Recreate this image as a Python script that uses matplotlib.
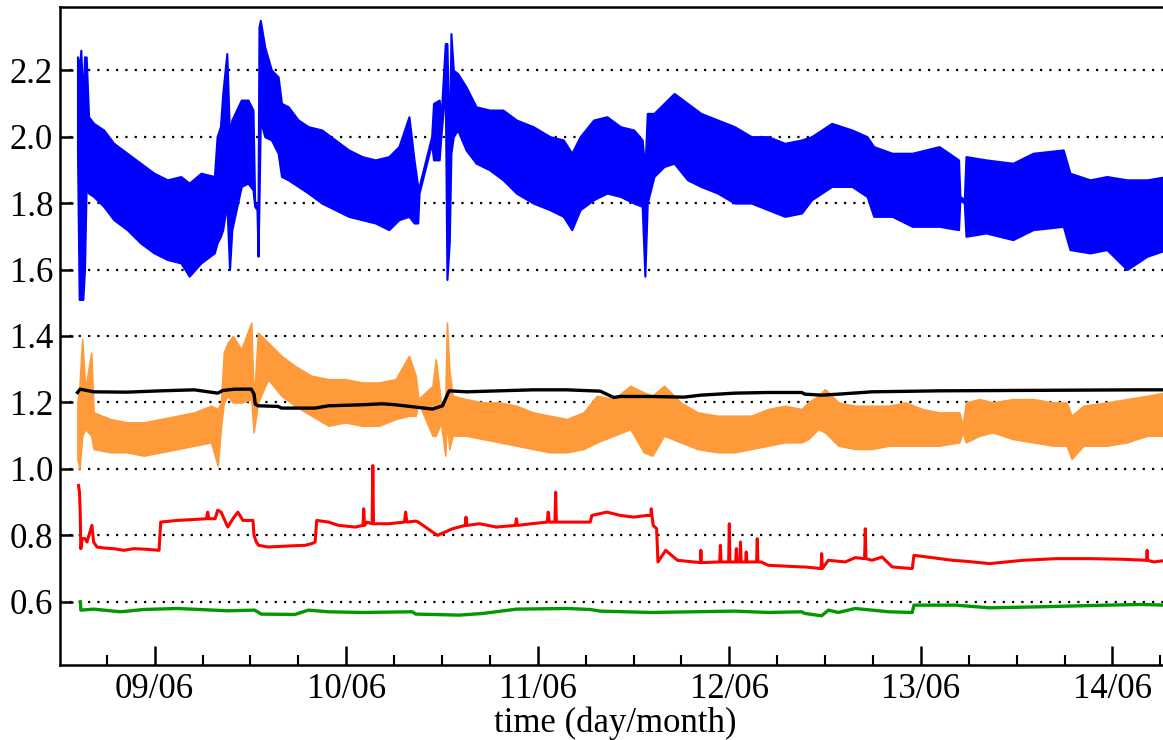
import numpy as np
import matplotlib
matplotlib.use("Agg")
import matplotlib.pyplot as plt
import matplotlib.dates as mdates

# ---------------- data (hours since 08/06 00:00) ----------------
blue_h = [14.33, 14.54, 14.75, 15.0, 15.21, 15.42, 15.72, 16.35, 17.61, 18.87, 20.55, 22.23, 23.92,
          25.6, 27.28, 28.33, 29.8, 31.48, 31.82, 32.24, 32.53, 33.04, 33.38, 33.67, 34.85, 35.69,
          36.32, 36.53, 36.82, 36.95, 37.07, 37.24, 37.79, 38.63, 39.47, 39.89, 40.73, 41.99, 43.25,
          44.94, 46.62, 48.3, 49.98, 51.66, 53.34, 54.6, 55.86, 56.5, 56.96, 57.13, 58.7, 58.94,
          59.65, 59.86, 60.41, 60.62, 60.91, 61.12, 61.42, 61.96, 63.01, 64.27, 65.96, 67.64, 69.32,
          71.42, 73.52, 75.2, 76.26, 77.31, 78.99, 80.67, 82.35, 84.03, 85.08, 85.42, 85.72, 86.56,
          87.82, 89.08, 90.76, 92.44, 94.54, 96.65, 98.75, 100.85, 102.95, 105.05, 106.31, 108.83,
          111.36, 113.25, 114.09, 116.4, 118.92, 122.29, 124.72, 124.89, 125.44, 125.65, 128.17,
          131.53, 134.06, 137.84, 138.68, 141.2, 143.3, 145.83, 148.35, 150.79]
blue_lo = [1.95, 1.51, 1.51, 1.51, 1.60, 1.85, 1.83, 1.82, 1.79, 1.75, 1.72, 1.68, 1.65,
           1.63, 1.62, 1.58, 1.62, 1.65, 1.68, 1.70, 1.72, 1.80, 1.60, 1.72, 1.85, 1.86,
           1.84, 1.79, 1.78, 1.64, 1.80, 2.05, 2.00, 1.99, 1.95, 1.88, 1.87, 1.85, 1.83,
           1.80, 1.78, 1.76, 1.75, 1.74, 1.72, 1.75, 1.76, 1.74, 1.74, 1.83, 1.98, 1.93,
           1.93, 2.00, 2.15, 1.57, 1.68, 1.95, 2.00, 2.02, 1.96, 1.92, 1.90, 1.87, 1.83,
           1.80, 1.78, 1.76, 1.72, 1.78, 1.81, 1.83, 1.82, 1.80, 1.79, 1.58, 1.80, 1.88,
           1.91, 1.92, 1.87, 1.85, 1.83, 1.80, 1.80, 1.78, 1.76, 1.77, 1.81, 1.85,
           1.85, 1.82, 1.76, 1.76, 1.73, 1.73, 1.72, 1.81, 1.80, 1.70, 1.71,
           1.69, 1.72, 1.73, 1.66, 1.65, 1.66, 1.60, 1.64, 1.66]
blue_hi = [2.24, 2.20, 2.26, 2.10, 2.24, 2.24, 2.06, 2.04, 2.02, 1.98, 1.95, 1.92, 1.89,
           1.87, 1.88, 1.86, 1.89, 1.88, 2.00, 2.03, 2.13, 2.25, 2.00, 2.05, 2.11, 2.11,
           2.08, 1.80, 1.79, 1.78, 2.33, 2.35, 2.27, 2.20, 2.18, 2.10, 2.09, 2.05, 2.03,
           2.02, 1.99, 1.96, 1.94, 1.93, 1.94, 1.97, 2.06, 1.93, 1.85, 1.85, 2.00, 2.10,
           2.11, 2.05, 2.28, 2.28, 1.94, 2.31, 2.20, 2.19, 2.15, 2.09, 2.08, 2.08, 2.05,
           2.03, 2.00, 1.99, 1.95, 2.00, 2.05, 2.06, 2.03, 2.02, 1.99, 1.90, 2.07, 2.07,
           2.10, 2.13, 2.10, 2.07, 2.05, 2.03, 2.00, 2.00, 1.98, 1.99, 2.00, 2.04,
           2.02, 2.00, 1.97, 1.95, 1.95, 1.97, 1.93, 1.82, 1.81, 1.94, 1.93,
           1.92, 1.95, 1.96, 1.89, 1.87, 1.88, 1.87, 1.87, 1.88]

orange_h = [14.33, 14.58, 14.92, 15.3, 16.05, 16.35, 18.45, 20.55, 22.65, 24.76, 26.86, 28.96, 31.06,
            31.9, 32.32, 32.66, 33.16, 33.8, 34.85, 36.11, 36.4, 36.95, 38.21, 39.89, 41.57, 43.67,
            45.78, 47.88, 49.98, 52.08, 54.19, 55.86, 56.71, 57.04, 58.81, 59.23, 59.86, 60.41,
            60.62, 60.91, 61.33, 63.01, 65.12, 67.22, 69.32, 71.42, 73.52, 75.63, 77.73, 79.41,
            81.51, 83.61, 85.29, 86.35, 87.82, 89.92, 92.02, 94.54, 96.65, 98.75, 100.85, 102.95,
            105.05, 105.89, 107.15, 107.99, 109.67, 111.78, 113.88, 115.98, 118.08, 120.19, 122.29,
            124.81, 125.23, 125.65, 127.33, 129.01, 131.53, 134.06, 136.58, 138.26, 138.89, 140.36,
            143.3, 145.83, 148.35, 150.66]
orange_lo = [1.03, 1.00, 1.10, 1.12, 1.10, 1.06, 1.05, 1.05, 1.04, 1.05, 1.06, 1.07, 1.08,
             1.01, 1.13, 1.20, 1.22, 1.20, 1.20, 1.21, 1.11, 1.20, 1.27, 1.22, 1.19, 1.16,
             1.13, 1.14, 1.13, 1.13, 1.15, 1.16, 1.16, 1.20, 1.10, 1.10, 1.14, 1.04,
             1.15, 1.06, 1.10, 1.10, 1.09, 1.08, 1.07, 1.06, 1.05, 1.05, 1.06, 1.08,
             1.10, 1.12, 1.05, 1.04, 1.10, 1.08, 1.06, 1.05, 1.05, 1.06, 1.07, 1.08,
             1.08, 1.09, 1.12, 1.11, 1.07, 1.06, 1.06, 1.07, 1.07, 1.07, 1.07,
             1.08, 1.11, 1.08, 1.10, 1.11, 1.09, 1.08, 1.07, 1.07, 1.03, 1.07,
             1.07, 1.08, 1.10, 1.10]
orange_hi = [1.20, 1.25, 1.39, 1.24, 1.35, 1.17, 1.15, 1.14, 1.14, 1.15, 1.16, 1.17, 1.19,
             1.18, 1.20, 1.35, 1.38, 1.40, 1.36, 1.44, 1.20, 1.41, 1.38, 1.34, 1.31, 1.28,
             1.27, 1.27, 1.26, 1.26, 1.27, 1.34, 1.28, 1.21, 1.25, 1.33, 1.20, 1.20,
             1.44, 1.30, 1.22, 1.21, 1.20, 1.20, 1.19, 1.17, 1.16, 1.15, 1.17, 1.22,
             1.21, 1.25, 1.23, 1.22, 1.25, 1.20, 1.17, 1.16, 1.16, 1.16, 1.18, 1.19,
             1.18, 1.20, 1.22, 1.24, 1.20, 1.19, 1.19, 1.19, 1.20, 1.18, 1.17,
             1.17, 1.13, 1.20, 1.21, 1.20, 1.21, 1.21, 1.20, 1.20, 1.16, 1.19,
             1.20, 1.21, 1.22, 1.23]

black_h = [14.33, 14.67, 16.35, 20.55, 24.76, 28.96, 31.9, 32.53, 34.01, 36.11, 36.45, 36.61, 36.95,
           39.47, 39.89, 44.1, 45.78, 49.98, 52.5, 54.19, 56.71, 58.81, 60.07, 60.7, 60.91, 63.01,
           67.22, 71.42, 75.63, 79.83, 81.51, 82.35, 86.14, 90.34, 92.44, 96.65, 100.85, 105.05,
           105.47, 107.57, 109.67, 113.88, 122.29, 130.69, 139.1, 147.51, 150.66]
black_v = [1.230, 1.240, 1.232, 1.231, 1.235, 1.238, 1.228, 1.236, 1.240, 1.240, 1.225, 1.195, 1.190,
           1.188, 1.183, 1.183, 1.190, 1.193, 1.196, 1.193, 1.186, 1.180, 1.190, 1.225, 1.235, 1.232,
           1.235, 1.238, 1.238, 1.234, 1.215, 1.218, 1.218, 1.216, 1.222, 1.228, 1.230, 1.230,
           1.225, 1.222, 1.225, 1.232, 1.235, 1.236, 1.237, 1.238, 1.238]

red_h = [14.46, 14.58, 14.67, 14.75, 14.92, 15.3, 15.51, 16.14, 16.35, 16.77, 17.61, 18.87, 20.13,
         21.39, 23.08, 24.55, 24.76, 26.86, 28.96, 30.5, 30.64, 30.8, 31.57, 31.9, 32.32, 33.16,
         33.8, 34.43, 35.06, 36.32, 36.45, 36.74, 37.03, 38.21, 40.73, 42.84, 43.67, 44.1, 44.31,
         45.78, 47.04, 49.14, 50.1, 50.19, 50.3, 50.61, 51.25, 51.33, 51.42, 53.34, 55.3, 55.44,
         55.6, 56.71, 57.04, 58.81, 59.44, 61.33, 62.9, 63.01, 63.12, 64.7, 66.8, 69.2, 69.32, 69.45,
         71.21, 73.2, 73.31, 73.45, 74.15, 74.24, 74.33, 78.57, 78.78, 80.67, 82.35, 84.03, 85.72,
         86.17, 86.22, 86.3, 86.47, 86.89, 87.06, 88.03, 89.5, 92.38, 92.44, 92.5, 94.8, 94.88,
         94.96, 95.92, 96.0, 96.08, 96.8, 96.88, 96.96, 97.32, 97.4, 97.48, 98.05, 98.12, 98.2,
         99.42, 99.5, 99.58, 100.0, 100.85, 105.05, 105.47, 107.5, 107.57, 107.65, 108.41, 110.52,
         111.78, 112.95, 113.04, 113.12, 113.88, 115.14, 116.4, 118.92, 119.13, 122.29, 123.97,
         125.65, 128.59, 132.8, 137.0, 141.2, 145.41, 148.27, 148.35, 148.43, 149.19, 150.79]
red_v = [0.95, 0.93, 0.87, 0.76, 0.79, 0.79, 0.78, 0.83, 0.78, 0.765, 0.762, 0.76, 0.755,
         0.76, 0.758, 0.755, 0.84, 0.845, 0.848, 0.85, 0.87, 0.85, 0.85, 0.876, 0.87, 0.825,
         0.85, 0.87, 0.845, 0.845, 0.80, 0.78, 0.77, 0.765, 0.768, 0.77, 0.775, 0.78, 0.845,
         0.84, 0.83, 0.825, 0.83, 0.88, 0.83, 0.84, 0.835, 1.01, 0.835, 0.835, 0.84, 0.87,
         0.84, 0.843, 0.84, 0.81, 0.80, 0.82, 0.83, 0.855, 0.83, 0.835, 0.825, 0.83, 0.85, 0.83,
         0.835, 0.84, 0.87, 0.84, 0.84, 0.93, 0.84, 0.84, 0.86, 0.87, 0.86, 0.855, 0.86,
         0.86, 0.88, 0.86, 0.83, 0.82, 0.72, 0.755, 0.725, 0.718, 0.755, 0.718, 0.72, 0.77,
         0.72, 0.72, 0.835, 0.72, 0.72, 0.76, 0.72, 0.72, 0.78, 0.72, 0.72, 0.75, 0.72,
         0.72, 0.79, 0.72, 0.72, 0.71, 0.705, 0.705, 0.70, 0.745, 0.70, 0.725, 0.72,
         0.733, 0.73, 0.82, 0.73, 0.725, 0.735, 0.705, 0.70, 0.74, 0.73, 0.725,
         0.722, 0.715, 0.725, 0.73, 0.73, 0.728, 0.725, 0.755, 0.725, 0.72, 0.725]

green_h = [14.7, 14.75, 16.35, 19.71, 22.65, 26.86, 33.16, 36.53, 37.37, 41.57, 43.25, 45.78, 49.98,
           56.29, 56.71, 58.81, 62.17, 65.12, 69.32, 75.63, 78.57, 79.83, 86.14, 96.65, 100.85,
           105.05, 105.47, 107.57, 108.41, 109.67, 111.78, 113.88, 115.98, 118.92, 119.13, 124.39,
           128.59, 134.9, 143.3, 147.51, 150.79]
green_v = [0.60, 0.575, 0.578, 0.570, 0.577, 0.580, 0.573, 0.575, 0.563, 0.562, 0.575, 0.570, 0.568,
           0.570, 0.563, 0.562, 0.560, 0.565, 0.578, 0.580, 0.577, 0.572, 0.568, 0.572, 0.568,
           0.570, 0.565, 0.558, 0.575, 0.568, 0.580, 0.575, 0.570, 0.568, 0.590, 0.590,
           0.582, 0.585, 0.590, 0.592, 0.590]

y_ticks = [0.6, 0.8, 1.0, 1.2, 1.4, 1.6, 1.8, 2.0, 2.2]
x_label = "time (day/month)"

# ---------------- helpers ----------------
base = np.datetime64("2015-06-08T00:00:00")


def to_time(hours):
    return base + (np.asarray(hours) * 3600).astype("int64").astype("timedelta64[s]")


plt.rcParams["font.family"] = ["Liberation Serif", "DejaVu Serif"]

fig = plt.figure(figsize=(11.63, 7.40), dpi=100)
ax = fig.add_axes([0.0516, 0.1014, 0.955, 0.8891])

BLUE = "#0000ff"
ORANGE = "#ff9a3a"
RED = "#ff0000"
GREEN = "#009a00"

ax.fill_between(to_time(blue_h), blue_lo, blue_hi, color=BLUE, lw=1.5, edgecolor=BLUE, zorder=3)
ax.fill_between(to_time(orange_h), orange_lo, orange_hi, color=ORANGE, lw=1.2, edgecolor=ORANGE,
                zorder=3)
ax.plot(to_time(black_h), black_v, color="black", lw=2.4, zorder=4)
ax.plot(to_time(red_h), red_v, color=RED, lw=2.2, zorder=3)
ax.plot(to_time(green_h), green_v, color=GREEN, lw=2.4, zorder=3)

ax.set_xlim(to_time([12.14])[0], to_time([151.3])[0])
ax.set_ylim(0.41, 2.39)

ax.yaxis.set_major_locator(matplotlib.ticker.FixedLocator(y_ticks))
ax.yaxis.set_major_formatter(matplotlib.ticker.FormatStrFormatter("%.1f"))
ax.xaxis.set_major_locator(mdates.DayLocator())
ax.xaxis.set_minor_locator(mdates.HourLocator(byhour=[6, 12, 18]))
ax.xaxis.set_major_formatter(mdates.DateFormatter("%d/%m"))

ax.grid(axis="y", which="major", linestyle=(0, (1, 3.2)), color="black", lw=1.6, zorder=1)

ax.tick_params(axis="both", which="major", direction="in", labelsize=25, width=1.8)
ax.tick_params(axis="y", which="major", length=9, pad=5, right=False)
ax.tick_params(axis="x", which="major", length=14, pad=6, top=False)
ax.tick_params(axis="x", which="minor", direction="in", length=7, width=1.5, top=False)

for s in ["left", "bottom", "top"]:
    ax.spines[s].set_linewidth(1.8)
ax.spines["right"].set_visible(False)

ax.set_xlabel(x_label, fontsize=25, labelpad=0)

fig.savefig("out.png", dpi=100)
